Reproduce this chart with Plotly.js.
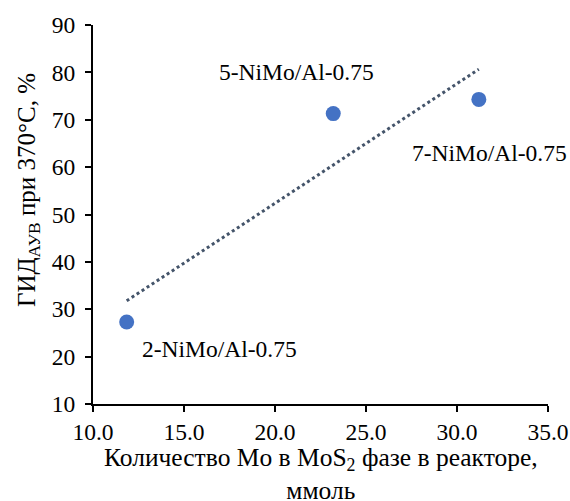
<!DOCTYPE html>
<html><head><meta charset="utf-8">
<script src="https://cdn.plot.ly/plotly-3.0.1.min.js"></script>
<style>body{margin:0;padding:0;background:#fff}#chart{width:570px;height:501px}</style>
</head><body><div id="chart"></div>
<script>
const samples = ["2-NiMo/Al-0.75", "5-NiMo/Al-0.75", "7-NiMo/Al-0.75"];
const moAmount = [11.85, 23.2, 31.2];
const hydYield = [27.3, 71.3, 74.3];
const xTicks = [10, 15, 20, 25, 30, 35];
const yTicks = [10, 20, 30, 40, 50, 60, 70, 80, 90];
const xTitle = "Количество Mo в MoS<sub>2</sub> фазе в реакторе,<br>ммоль";
const yTitle = "ГИД<sub>АУВ</sub> при 370°C, %";

// linear trendline (least squares) from data
const n = moAmount.length;
const mx = moAmount.reduce((a,b)=>a+b,0)/n;
const my = hydYield.reduce((a,b)=>a+b,0)/n;
let sxy=0, sxx=0;
for (let i=0;i<n;i++){ sxy+=(moAmount[i]-mx)*(hydYield[i]-my); sxx+=(moAmount[i]-mx)**2; }
const slope = sxy/sxx, icpt = my - slope*mx;
const tx = [Math.min(...moAmount), Math.max(...moAmount)];
const ty = tx.map(v => icpt + slope*v);

const font = "Liberation Serif";
const fs = 23.5;
const tfs = 25.5;
const traces = [
  {x: tx, y: ty, mode: "lines", line: {color: "#44546A", width: 3, dash: "dot"}, hoverinfo: "skip"},
  {x: moAmount, y: hydYield, mode: "markers", marker: {color: "#4472C4", size: 15}}
];
const labelPos = [
  {x: 16.95, y: 21.6},
  {x: 21.2, y: 80.1},
  {x: 31.8, y: 63.0}
];
const annotations = samples.map((s,i)=>({x: labelPos[i].x, y: labelPos[i].y, xref:"x", yref:"y", text: s, showarrow:false, font:{family:font, size:fs, color:"#000"}}));
const plotW = 570 - 93 - 22, plotH = 501 - 25 - 97;
annotations.push({x: (28 - 93) / plotW, y: (501 - 97 - 190) / plotH, xref: "paper", yref: "paper",
  xanchor: "center", yanchor: "middle", text: yTitle,
  textangle: -90, showarrow: false, font: {family: font, size: 25, color: "#000"}});
annotations.push({x: 0.5, y: (501 - 97 - 474) / plotH, xref: "paper", yref: "paper",
  xanchor: "center", yanchor: "middle", text: xTitle, showarrow: false,
  font: {family: font, size: tfs, color: "#000"}});
const layout = {
  width: 570, height: 501,
  margin: {l: 93, r: 22, t: 25, b: 97},
  paper_bgcolor: "#fff", plot_bgcolor: "#fff",
  showlegend: false,
  font: {family: font, size: fs, color: "#000"},
  xaxis: {range: [10, 35], tickvals: xTicks, tickformat: ".1f", showgrid: false, zeroline: false,
    showline: true, linecolor: "#000", linewidth: 2, ticks: "outside", ticklen: 6, tickwidth: 2, tickcolor: "#000",
    tickfont: {family: font, size: fs, color: "#000"}},
  yaxis: {range: [10, 90], tickvals: yTicks, showgrid: false, zeroline: false,
    showline: true, linecolor: "#000", linewidth: 2, ticks: "outside", ticklen: 6, tickwidth: 2, tickcolor: "#000",
    ticklabelstandoff: 5,
    tickfont: {family: font, size: fs, color: "#000"}},
  annotations: annotations
};
Plotly.newPlot("chart", traces, layout, {displayModeBar: false, staticPlot: true});
</script></body></html>
